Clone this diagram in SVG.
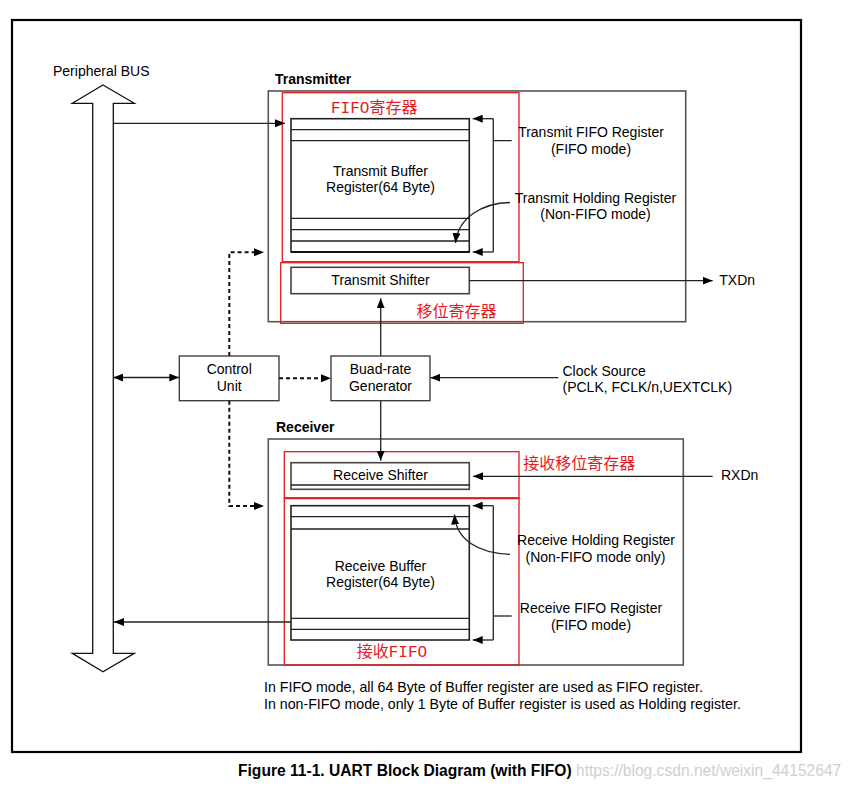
<svg xmlns="http://www.w3.org/2000/svg" width="855" height="790" viewBox="0 0 855 790">
<defs>
<style>
text{font-family:"Liberation Sans",Arial,sans-serif;font-size:14px;fill:#000}
.c{text-anchor:middle}
.b{font-weight:bold}
.red{font-family:"Liberation Mono","Noto Sans CJK SC",monospace;font-size:16px;fill:#e51a1f}
.grp{fill:none;stroke:#555;stroke-width:1.6}
.rb{fill:none;stroke:#e51a1f;stroke-width:1.3}
.box{fill:#fff;stroke:#222;stroke-width:1.6}
.ln{fill:none;stroke:#222;stroke-width:1.3}
.dash{fill:none;stroke:#111;stroke-width:2;stroke-dasharray:4 3}
</style>
<marker id="ah" viewBox="0 0 10 8" refX="10" refY="4" markerWidth="10" markerHeight="8" markerUnits="userSpaceOnUse" orient="auto-start-reverse">
<path d="M0,0 L10,4 L0,8 Z" fill="#000"/>
</marker>
</defs>
<rect width="855" height="790" fill="#fff"/>
<rect x="12" y="20" width="789" height="732" fill="none" stroke="#000" stroke-width="2.2"/>

<g id="bus">
<polygon points="103,85 134.3,103.3 113.3,103.3 113.3,653.3 134.3,653.3 103,671.7 72.3,653.3 92.7,653.3 92.7,103.3 72.3,103.3" fill="#fff" stroke="#111" stroke-width="1.3"/>
<text x="53" y="76">Peripheral BUS</text>
</g>

<g id="transmitter">
<rect class="grp" x="268.3" y="91" width="417.4" height="230.7"/>
<text class="b" x="275" y="84">Transmitter</text>
</g>
<g id="tx-fifo-red">
<rect class="rb" x="282.3" y="92.7" width="236.7" height="169"/>
<text class="red" x="331" y="112.5">FIFO寄存器</text>
</g>
<g id="tx-buffer">
<rect class="box" x="291" y="118.7" width="178.3" height="133.3"/>
<path class="ln" d="M291,129.7H469.3M291,140.7H469.3M291,218.3H469.3M291,229.7H469.3M291,241H469.3"/>
<line x1="291" y1="252" x2="469.3" y2="252" stroke="#111" stroke-width="2.2"/>
<text class="c" x="380.5" y="175.5">Transmit Buffer</text>
<text class="c" x="380.5" y="191.5">Register(64 Byte)</text>
</g>
<g id="tx-shift-red">
<rect class="rb" x="280.7" y="262.7" width="242.6" height="60.6"/>
<text class="red" x="416.5" y="317">移位寄存器</text>
</g>
<g id="tx-shifter">
<rect class="box" x="291" y="267.3" width="178.3" height="26.4" style="stroke:#444"/>
<text class="c" x="380.5" y="284.5">Transmit Shifter</text>
</g>
<g id="tx-labels">
<text class="c" x="591" y="137.3">Transmit FIFO Register</text>
<text class="c" x="591" y="154">(FIFO mode)</text>
<text class="c" x="595.5" y="202.7">Transmit Holding Register</text>
<text class="c" x="595.5" y="219">(Non-FIFO mode)</text>
</g>

<g id="control">
<rect class="box" x="179.3" y="356" width="99.7" height="44.7" style="stroke:#333;stroke-width:1.3"/>
<text class="c" x="229.2" y="374">Control</text>
<text class="c" x="229.2" y="391">Unit</text>
</g>
<g id="baud">
<rect class="box" x="331" y="356" width="99" height="44.7" style="stroke:#333;stroke-width:1.3"/>
<text class="c" x="380.5" y="374">Buad-rate</text>
<text class="c" x="380.5" y="391">Generator</text>
</g>
<g id="clock">
<text x="562.5" y="375.5">Clock Source</text>
<text x="562.5" y="392">(PCLK, FCLK/n,UEXTCLK)</text>
</g>
<g id="txd"><text x="719.3" y="285">TXDn</text></g>
<g id="rxd"><text x="721" y="480">RXDn</text></g>

<g id="receiver">
<rect class="grp" x="268.3" y="439" width="415" height="226"/>
<text class="b" x="276" y="431.7">Receiver</text>
</g>
<g id="rx-shift-red">
<rect class="rb" x="284.3" y="451.7" width="234.7" height="46.6"/>
<text class="red" x="523.3" y="469">接收移位寄存器</text>
</g>
<g id="rx-fifo-red">
<rect class="rb" x="284.3" y="498.3" width="234.7" height="166.7"/>
<line x1="284.3" y1="498.3" x2="519" y2="498.3" stroke="#e51a1f" stroke-width="2"/>
<text class="red" x="356.7" y="657">接收FIFO</text>
</g>
<g id="rx-shifter">
<rect class="box" x="291" y="462.7" width="178.3" height="26.6" style="stroke:#444"/>
<line class="ln" x1="291" y1="485" x2="469.3" y2="485"/>
<text class="c" x="380.5" y="479.5">Receive Shifter</text>
</g>
<g id="rx-buffer">
<rect class="box" x="291" y="505.7" width="178.3" height="134.3"/>
<path class="ln" d="M291,516.7H469.3M291,529H469.3M291,618.3H469.3M291,629.3H469.3"/>
<text class="c" x="380.5" y="571">Receive Buffer</text>
<text class="c" x="380.5" y="587">Register(64 Byte)</text>
</g>
<g id="rx-labels">
<text class="c" x="596" y="545">Receive Holding Register</text>
<text class="c" x="595.5" y="562">(Non-FIFO mode only)</text>
<text class="c" x="591" y="613">Receive FIFO Register</text>
<text class="c" x="591" y="629.5">(FIFO mode)</text>
</g>

<g id="notes">
<text x="264" y="692" style="font-size:14.2px">In FIFO mode, all 64 Byte of Buffer register are used as FIFO register.</text>
<text x="264" y="709" style="font-size:14.2px">In non-FIFO mode, only 1 Byte of Buffer register is used as Holding register.</text>
<text class="b" x="238" y="776" style="font-size:15.6px">Figure 11-1. UART Block Diagram (with FIFO)</text>
<text x="576" y="776" style="font-size:15.6px;fill:#d0d0d0">https://blog.csdn.net/weixin_44152647</text>
</g>

<g id="connectors">
<line class="ln" x1="113.3" y1="123.3" x2="285" y2="123.3" marker-end="url(#ah)"/>
<path class="ln" d="M511.7,140.7H493.3M493.3,118.7V252"/>
<line class="ln" x1="493.3" y1="118.7" x2="472.7" y2="118.7" marker-end="url(#ah)"/>
<line class="ln" x1="493.3" y1="252" x2="472.7" y2="252" marker-end="url(#ah)"/>
<path class="ln" d="M510,202.5C482,203 458,218 455.5,243" marker-end="url(#ah)"/>
<line class="ln" x1="469.3" y1="280.7" x2="712.7" y2="280.7" marker-end="url(#ah)"/>
<line class="ln" x1="380.7" y1="356" x2="380.7" y2="298.3" marker-end="url(#ah)"/>
<line class="ln" x1="380.7" y1="400.7" x2="380.7" y2="460.7" marker-end="url(#ah)"/>
<line class="ln" x1="558.3" y1="377.7" x2="430.3" y2="377.7" marker-end="url(#ah)"/>
<line class="ln" x1="113.3" y1="377.5" x2="179.3" y2="377.5" marker-start="url(#ah)" marker-end="url(#ah)"/>
<path class="dash" d="M279,378.3H321"/>
<path d="M321,374.3L331,378.3L321,382.3Z" fill="#000"/>
<path class="dash" d="M229.3,356V252.3H254"/>
<path d="M254,248.3L264,252.3L254,256.3Z" fill="#000"/>
<path class="dash" d="M229.3,400.7V506H254"/>
<path d="M254,502L264,506L254,510Z" fill="#000"/>
<line class="ln" x1="712.7" y1="476.3" x2="473" y2="476.3" marker-end="url(#ah)"/>
<line class="ln" x1="493.3" y1="505.7" x2="493.3" y2="640"/>
<line class="ln" x1="493.3" y1="505.7" x2="472.7" y2="505.7" marker-end="url(#ah)"/>
<line class="ln" x1="493.3" y1="640" x2="472.7" y2="640" marker-end="url(#ah)"/>
<line class="ln" x1="493.3" y1="616" x2="511.7" y2="616"/>
<path class="ln" d="M510,554.3C478,553 456,540 454.5,514.5" marker-end="url(#ah)"/>
<line class="ln" x1="291" y1="622" x2="114" y2="622" marker-end="url(#ah)"/>
</g>
</svg>
